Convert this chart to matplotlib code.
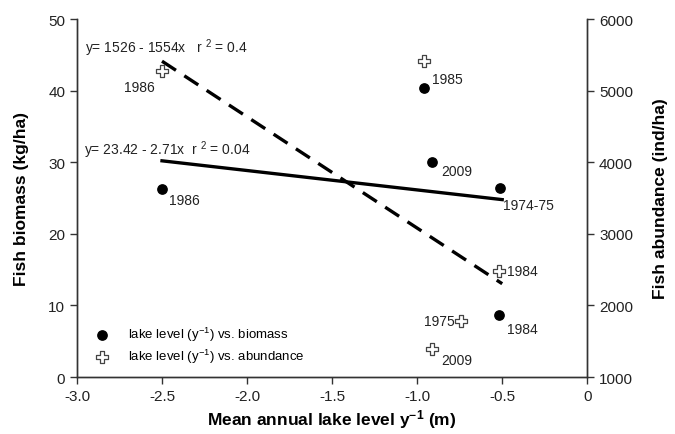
import matplotlib
matplotlib.use('Agg')
import matplotlib.pyplot as plt
import numpy as np

plt.rcParams['font.family'] = ['Liberation Sans', 'DejaVu Sans']
plt.rcParams['mathtext.fontset'] = 'custom'
plt.rcParams['mathtext.rm'] = 'Liberation Sans'
plt.rcParams['mathtext.it'] = 'Liberation Sans:italic'
plt.rcParams['mathtext.bf'] = 'Liberation Sans:bold'

# biomass (left axis)
bio_x = [-2.50, -0.96, -0.91, -0.51, -0.52]
bio_y = [26.3, 40.4, 30.0, 26.4, 8.7]
bio_lab = ['1986', '', '2009', '1974-75', '1984']

# abundance (right axis)
abu_x = [-2.50, -0.96, -0.52, -0.74, -0.91]
abu_y = [5280, 5420, 2480, 1780, 1390]
abu_lab = ['1986', '1985', '1984', '1975', '2009']

# regression lines (intercept, slope) and x range
bio_fit = (23.42, -2.71)
abu_fit = (1526, -1554)
fit_x = [-2.5, -0.5]

fig = plt.figure(figsize=(6.75, 4.35), dpi=100)
ax = fig.add_axes([0.114, 0.131, 0.756, 0.823])
ax2 = ax.twinx()

fx = np.array(fit_x)
ax.plot(fx, bio_fit[0] + bio_fit[1] * fx, color='black', lw=2.4, zorder=2)
ax2.plot(fx, abu_fit[0] + abu_fit[1] * fx, color='black', lw=2.4,
         dashes=(5, 3), zorder=2)

h1 = ax.scatter(bio_x, bio_y, s=45, color='black', zorder=3,
                label='lake level (y$^{-1}$) vs. biomass')
h2 = ax2.scatter(abu_x, abu_y, s=85, marker='P', facecolor='white',
                 edgecolor='#444444', linewidth=0.9, zorder=3,
                 label='lake level (y$^{-1}$) vs. abundance')

# point labels (offsets in points)
bio_off = [(5, -8), (0, 0), (6, -6), (2, -12), (6, -10)]
for x, y, t, o in zip(bio_x, bio_y, bio_lab, bio_off):
    if t:
        ax.annotate(t, (x, y), xytext=o, textcoords='offset points',
                    fontsize=10, color='#222222', ha='left', va='center')
abu_off = [(-5, -12), (6, -13), (6, 0), (-5, 0), (6, -8)]
abu_ha = ['right', 'left', 'left', 'right', 'left']
for x, y, t, o, h in zip(abu_x, abu_y, abu_lab, abu_off, abu_ha):
    ax2.annotate(t, (x, y), xytext=o, textcoords='offset points',
                 fontsize=10, color='#222222', ha=h, va='center')

ax.text(-2.95, 46.1, 'y= 1526 - 1554x   r $^{2}$ = 0.4', fontsize=10,
        va='center', ha='left', color='#222222')
ax.text(-2.96, 31.8, 'y= 23.42 - 2.71x  r $^{2}$ = 0.04', fontsize=10,
        va='center', ha='left', color='#222222')

ax.set_xlim(-3.0, 0.0)
ax.set_ylim(0, 50)
ax2.set_ylim(1000, 6000)
ax.set_xticks(np.arange(-3.0, 0.01, 0.5))
ax.set_xticklabels(['-3.0', '-2.5', '-2.0', '-1.5', '-1.0', '-0.5', '0'])
ax.set_yticks(range(0, 51, 10))
ax2.set_yticks(range(1000, 6001, 1000))

for a in (ax, ax2):
    a.spines['top'].set_visible(False)
    a.tick_params(direction='out', length=5, width=1, labelsize=11,
                  color='#333333', labelcolor='#222222')
    for s in a.spines.values():
        s.set_linewidth(1.0)
        s.set_color('#333333')

ax.set_xlabel('Mean annual lake level y$^{\\mathbf{-1}}$ (m)', fontsize=12.5,
              fontweight='bold', labelpad=3)
ax.set_ylabel('Fish biomass (kg/ha)', fontsize=12.5, fontweight='bold',
              labelpad=14)
ax2.set_ylabel('Fish abundance (ind/ha)', fontsize=12.5, fontweight='bold',
               labelpad=14)

ax.legend(handles=[h1, h2], loc='lower left', frameon=False, fontsize=9.5,
          handletextpad=1.0, borderaxespad=0.5, labelspacing=0.3,
          scatterpoints=1, bbox_to_anchor=(0.0, 0.0))

fig.savefig('out.png', dpi=100)
